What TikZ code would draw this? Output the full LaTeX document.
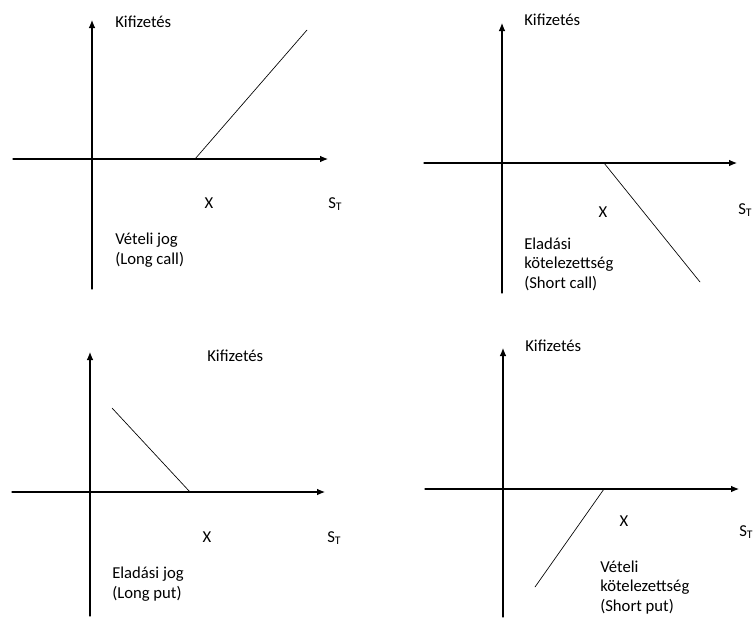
\documentclass[tikz,border=0pt]{standalone}
\usepackage{fontspec}
\setmainfont{Carlito}
\usetikzlibrary{arrows.meta}
\tikzset{
  axis/.style={->, line width=0.8pt},
  payoff/.style={line width=0.5pt},
  lbl/.style={inner sep=0pt},
  note/.style={inner sep=0pt, align=left, anchor=base west}
}
\begin{document}
\begin{tikzpicture}[x=0.75pt, y=-0.75pt, font=\fontsize{12.5}{14.5}\selectfont, line join=round, line cap=round, >={Latex[length=6pt,width=5pt]}]
    \useasboundingbox (0,0) rectangle (754,618);
    % long call
    \coordinate (xl1) at (13,159);  \coordinate (xr1) at (328,159);
    \coordinate (yb1) at (92,289);  \coordinate (yt1) at (92,20);
    \coordinate (k1) at (195,159);  \coordinate (p1) at (307,30);
    \draw[axis] (xl1) -- (xr1);
    \draw[axis] (yb1) -- (yt1);
    \draw[payoff] (k1) -- (p1);
    \node[lbl, anchor=base west] (kif1) at (115,27) {Kifizetés};
    \node[lbl, anchor=base] (x1) at (209,208) {X};
    \node[lbl, anchor=base west] (st1) at (328,208) {S\textsubscript{T}};
    \node[note] (n1) at (115,264) {Vételi jog\\(Long call)};
    % short call
    \coordinate (xl2) at (424,163); \coordinate (xr2) at (737,163);
    \coordinate (yb2) at (502,293); \coordinate (yt2) at (502,23);
    \coordinate (k2) at (604,163);  \coordinate (p2) at (700,282);
    \draw[axis] (xl2) -- (xr2);
    \draw[axis] (yb2) -- (yt2);
    \draw[payoff] (k2) -- (p2);
    \node[lbl, anchor=base west] (kif2) at (524,25) {Kifizetés};
    \node[lbl, anchor=base] (x2) at (603,217) {X};
    \node[lbl, anchor=base west] (st2) at (738,214) {S\textsubscript{T}};
    \node[note] (n2) at (524,288) {Eladási\\kötelezettség\\(Short call)};
    % long put
    \coordinate (xl3) at (12,492);  \coordinate (xr3) at (325,492);
    \coordinate (yb3) at (90,616);  \coordinate (yt3) at (90,352);
    \coordinate (k3) at (190,492);  \coordinate (p3) at (112,408);
    \draw[axis] (xl3) -- (xr3);
    \draw[axis] (yb3) -- (yt3);
    \draw[payoff] (p3) -- (k3);
    \node[lbl, anchor=base west] (kif3) at (207,361) {Kifizetés};
    \node[lbl, anchor=base] (x3) at (207,542) {X};
    \node[lbl, anchor=base west] (st3) at (327,542) {S\textsubscript{T}};
    \node[note] (n3) at (112,598) {Eladási jog\\(Long put)};
    % short put
    \coordinate (xl4) at (425,489); \coordinate (xr4) at (739,489);
    \coordinate (yb4) at (503,617); \coordinate (yt4) at (503,348);
    \coordinate (k4) at (604,489);  \coordinate (p4) at (535,587);
    \draw[axis] (xl4) -- (xr4);
    \draw[axis] (yb4) -- (yt4);
    \draw[payoff] (k4) -- (p4);
    \node[lbl, anchor=base west] (kif4) at (525,351) {Kifizetés};
    \node[lbl, anchor=base] (x4) at (624,526) {X};
    \node[lbl, anchor=base west] (st4) at (739,536) {S\textsubscript{T}};
    \node[note] (n4) at (600,611) {Vételi\\kötelezettség\\(Short put)};
\end{tikzpicture}
\end{document}
